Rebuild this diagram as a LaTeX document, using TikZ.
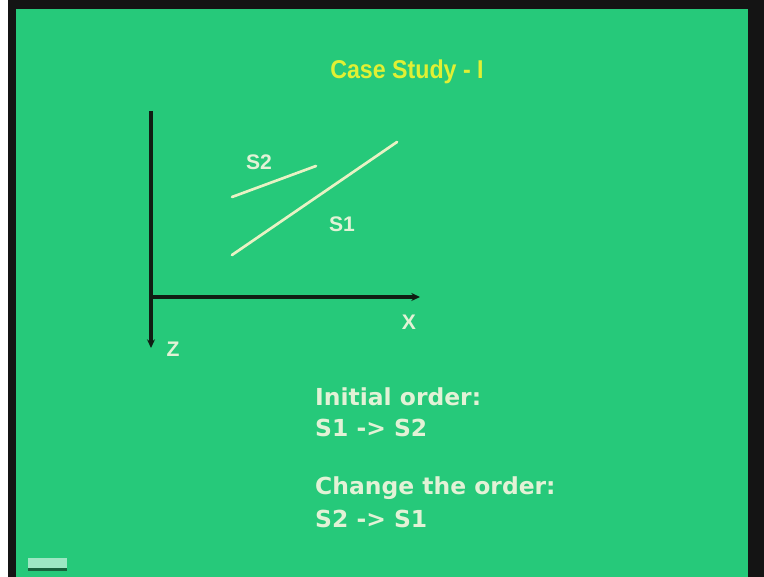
\documentclass[tikz,border=0pt]{standalone}
\usepackage{fontspec}
\setmainfont{DejaVu Sans}
\newfontfamily\arialfont{Liberation Sans}
\usepackage{tikz}
\usetikzlibrary{positioning,arrows.meta}
\usepackage{xcolor}
\definecolor{slidegreen}{RGB}{38,201,122}
\definecolor{titleyellow}{RGB}{224,240,52}
\definecolor{chalk}{RGB}{226,242,214}
\definecolor{segclr}{RGB}{232,242,196}
\definecolor{axisclr}{RGB}{16,30,20}

\begin{document}
\begin{tikzpicture}[x=0.3mm,y=-0.3mm,>={Stealth[length=2.6mm,width=2.4mm]},
  lab/.style={font=\arialfont\bfseries\fontsize{18}{20}\selectfont,text=chalk,inner sep=0pt},
  txt/.style={font=\bfseries\fontsize{20}{24}\selectfont,text=chalk,anchor=west,inner sep=0pt},
  axis/.style={->,axisclr,line width=1.1mm},
  seg/.style={segclr,line width=0.8mm,line cap=round}]
% slide frame
\fill[white] (0,0) rectangle (764,577);
\fill[black!92] (8,0) rectangle (764,577);
\fill[slidegreen] (16,9) rectangle (748,577);
\useasboundingbox (0,0) rectangle (764,577);
\node (t) at (407,72) {\textcolor{titleyellow}{\arialfont\bfseries\fontsize{22}{24}\selectfont\scalebox{0.9}[1]{Case Study - I}}};
% axes
\coordinate (o) at (151,297);
\coordinate (zt) at (151,111);
\coordinate (zb) at (151,348);
\coordinate (xe) at (420,297);
\draw[axis] (zt) -- (zb);
\draw[axis] (o) -- (xe);
\node[lab] (x) at (409,322) {X};
\node[lab] (z) at (173,349) {Z};
% the two segments
\coordinate (a1) at (232,255);
\coordinate (b1) at (397,142);
\coordinate (a2) at (232,197);
\coordinate (b2) at (316,166);
\draw[seg] (a1) -- (b1);
\draw[seg] (a2) -- (b2);
\node[lab] (s2) at (259,162) {S2};
\node[lab] (s1) at (342,224) {S1};
% order
\node[txt] (i) at (315,397) {Initial order:};
\node[txt] (j) at (315,428) {S1 -> S2};
\node[txt] (c) at (315,488) {Change the order:};
\node[txt] (d) at (315,519) {S2 -> S1};
% logo
\fill[slidegreen!45!white] (28,558) rectangle (67,571);
\fill[axisclr!60!slidegreen] (28,568) rectangle (67,571);
\end{tikzpicture}
\end{document}
